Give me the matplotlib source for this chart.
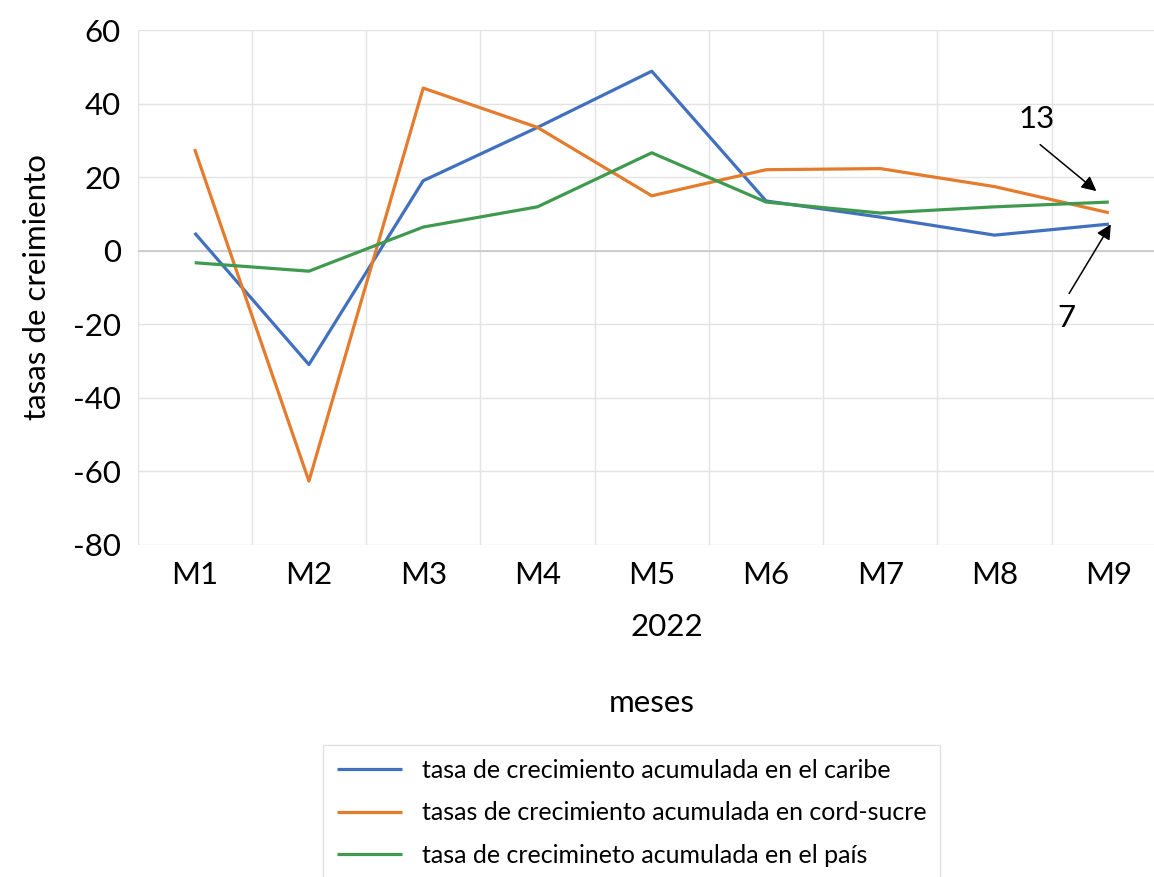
import matplotlib.pyplot as plt
import numpy as np

plt.rcParams["font.family"] = ["Lato", "DejaVu Sans"]
plt.rcParams["axes.unicode_minus"] = False

# Data
meses = ["M1", "M2", "M3", "M4", "M5", "M6", "M7", "M8", "M9"]
caribe = [4.8, -31, 19, 33.5, 48.8, 13.5, 9.1, 4.2, 7.2]
cord_sucre = [27.6, -62.7, 44.2, 33.5, 14.9, 22, 22.3, 17.4, 10.3]
pais = [-3.3, -5.6, 6.4, 11.9, 26.6, 13.2, 10.2, 11.9, 13.2]

labels = [
    "tasa de crecimiento acumulada en el caribe",
    "tasas de crecimiento acumulada en cord-sucre",
    "tasa de crecimineto acumulada en el país",
]
colors = ["#4170BE", "#E57B2D", "#3F9A50"]

W, H = 1154, 877
fig = plt.figure(figsize=(W / 100, H / 100), dpi=100)
# plot area runs slightly past the right edge of the picture
ax = fig.add_axes([137.5 / W, 1 - 544.7 / H, (1166 - 137.5) / W, (544.7 - 30) / H])

x = np.arange(len(meses))
for serie, lab, col in zip([caribe, cord_sucre, pais], labels, colors):
    ax.plot(x, serie, color=col, lw=2.3, label=lab, solid_capstyle="butt")

ax.set_xlim(-0.5, len(meses) - 0.5)
ax.set_ylim(-80, 60)
ax.set_yticks(range(-80, 61, 20))
ax.set_xticks(x)
ax.set_xticklabels(meses)
ax.set_xticks(np.arange(-0.5, len(meses), 1), minor=True)
ax.tick_params(axis="both", which="both", length=0, labelsize=22.5)
ax.tick_params(axis="y", pad=12)
ax.tick_params(axis="x", pad=12)
ax.grid(axis="y", which="major", color="#E3E3E3", lw=1)
ax.grid(axis="x", which="minor", color="#E3E3E3", lw=1)
ax.axhline(0, color="#CACACA", lw=1.3, zorder=1)
ax.set_axisbelow(True)
for s in ax.spines.values():
    s.set_visible(False)

ax.set_ylabel("tasas de creimiento", fontsize=22.5, labelpad=16)

fig.text(667 / W, 1 - 627 / H, "2022", fontsize=22.5, ha="center", va="center")
fig.text(652 / W, 1 - 703 / H, "meses", fontsize=22.5, ha="center", va="center")

# annotations at M9
ax.annotate("", xy=(7.91, 15.7), xytext=(7.38, 29.3),
            arrowprops=dict(arrowstyle="-|>", color="black", lw=1.1, mutation_scale=22))
ax.text(7.37, 35.8, "13", fontsize=22.5, ha="center", va="center")
ax.annotate("", xy=(8.03, 7.8), xytext=(7.64, -12.3),
            arrowprops=dict(arrowstyle="-|>", color="black", lw=1.1, mutation_scale=22))
ax.text(7.63, -18.3, "7", fontsize=22.5, ha="center", va="center")

leg = fig.legend(loc="upper left", bbox_to_anchor=(323 / W, 1 - 745 / H), fontsize=18,
                 frameon=True, fancybox=False, edgecolor="#D9D9D9", handlelength=2.6,
                 handletextpad=0.8, borderpad=0.55, labelspacing=0.78, borderaxespad=0)
leg.get_frame().set_linewidth(1)

fig.savefig("out.png", dpi=100)
